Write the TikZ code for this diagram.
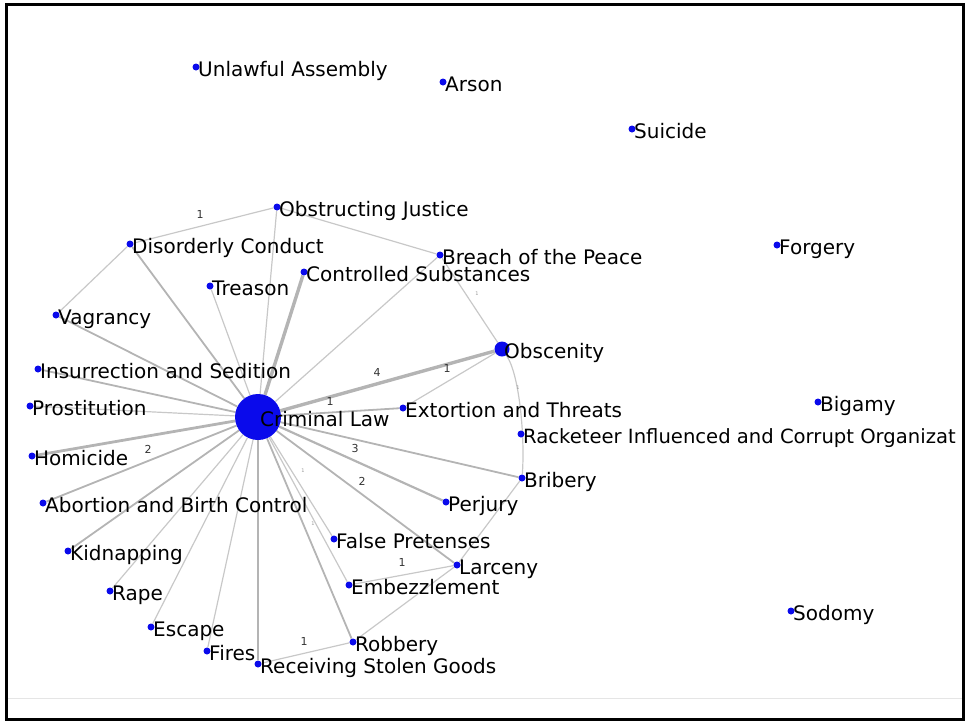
\documentclass[tikz,border=0pt]{standalone}
\usepackage{fontspec}
\setmainfont{DejaVu Sans}
\usetikzlibrary{backgrounds}
\definecolor{dotblue}{RGB}{10,10,235}
\definecolor{edgegray}{RGB}{200,200,200}
\definecolor{edgedark}{RGB}{180,180,180}
\newcommand\crime[5][dot]{%
  \node[#1] (#2) at (#3,#4) {};
  \node[lbl] (#2-t) at (#3+2,#4+9) {#5};}
\begin{document}
\begin{tikzpicture}[x=1pt,y=-1pt,
  dot/.style={circle,fill=dotblue,inner sep=0pt,minimum size=7pt},
  bigdot/.style={dot,minimum size=15pt},
  hubdot/.style={dot,minimum size=46pt},
  lbl/.style={anchor=base west,inner sep=0pt,font=\fontsize{20}{24}\selectfont,text=black},
  edge/.style={draw=edgegray,line width=1.2pt},
  med/.style={draw=edgedark,line width=1.8pt},
  heavy/.style={draw=edgedark,line width=3.4pt},
  elbl/.style={inner sep=0pt,font=\fontsize{11}{13}\selectfont,text=black!80},
  tiny/.style={inner sep=0pt,font=\fontsize{5}{6}\selectfont,text=black!40},
]
\useasboundingbox (0,0) rectangle (966,721);
\draw[draw=black!10,line width=1pt] (7,698) -- (962,698);
% nodes
\crime{ua}{196}{67}{Unlawful Assembly}
\crime{ars}{443}{82}{Arson}
\crime{sui}{632}{129}{Suicide}
\crime{forg}{777}{245}{Forgery}
\crime{bigm}{818}{402}{Bigamy}
\crime{sod}{791}{611}{Sodomy}
\crime{obj}{277}{207}{Obstructing Justice}
\crime{dis}{130}{244}{Disorderly Conduct}
\crime{bre}{440}{255}{Breach of the Peace}
\crime{con}{304}{272}{Controlled Substances}
\crime{tre}{210}{286}{Treason}
\crime{vag}{56}{315}{Vagrancy}
\crime[bigdot]{obs}{502}{349}{Obscenity}
\crime{ins}{38}{369}{Insurrection and Sedition}
\crime{pro}{30}{406}{Prostitution}
\crime[hubdot]{cl}{258}{417}{Criminal Law}
\crime{ext}{403}{408}{Extortion and Threats}
\node[dot] (rac) at (521,434) {};
\node[lbl,font=\fontsize{19.6}{24}\selectfont] (rac-t) at (523,443) {Racketeer Influenced and Corrupt Organizat};
\crime{hom}{32}{456}{Homicide}
\crime{bri}{522}{478}{Bribery}
\crime{abo}{43}{503}{Abortion and Birth Control}
\crime{per}{446}{502}{Perjury}
\crime{fal}{334}{539}{False Pretenses}
\crime{kid}{68}{551}{Kidnapping}
\crime{lar}{457}{565}{Larceny}
\crime{emb}{349}{585}{Embezzlement}
\crime{rap}{110}{591}{Rape}
\crime{esc}{151}{627}{Escape}
\crime{rob}{353}{642}{Robbery}
\crime{fir}{207}{651}{Fires}
\crime{rec}{258}{664}{Receiving Stolen Goods}
% edges
\begin{scope}[on background layer]
\draw[heavy] (cl) -- (obs);
\draw[heavy] (cl) -- (con);
\draw[heavy,line width=2.8pt] (cl) -- (hom);
\draw[heavy,line width=2.4pt] (cl) -- (rec);
\draw[med,line width=2.2pt] (cl) -- (per);
\draw[med] (cl) -- (dis);
\draw[med] (cl) -- (vag);
\draw[med] (cl) -- (ins);
\draw[med] (cl) -- (abo);
\draw[med] (cl) -- (kid);
\draw[med] (cl) -- (rob);
\draw[med] (cl) -- (lar);
\draw[med] (cl) -- (bri);
\draw[med] (cl) -- (ext);
\draw[edge] (cl) -- (obj);
\draw[edge] (cl) -- (tre);
\draw[edge] (cl) -- (bre);
\draw[edge] (cl) -- (pro);
\draw[edge] (cl) -- (rap);
\draw[edge] (cl) -- (esc);
\draw[edge] (cl) -- (fir);
\draw[edge] (cl) -- (emb);
\draw[edge] (cl) -- (fal);
\draw[edge] (dis) -- (obj);
\draw[edge] (dis) -- (vag);
\draw[edge] (obj) -- (bre);
\draw[edge] (bre) -- (obs);
\draw[edge] (obs) -- (ext);
\draw[edge] (obs) .. controls (520,375) and (525,440) .. (bri);
\draw[edge] (bri) -- (lar);
\draw[edge] (lar) -- (emb);
\draw[edge] (lar) -- (rob);
\draw[edge] (rob) -- (rec);
\end{scope}
% edge labels
\node[elbl] (w1) at (200,214) {1};
\node[elbl] (w2) at (377,372) {4};
\node[elbl] (w3) at (330,401) {1};
\node[elbl] (w4) at (447,368) {1};
\node[elbl] (w5) at (355,448) {3};
\node[elbl] (w6) at (362,481) {2};
\node[elbl] (w7) at (148,449) {2};
\node[elbl] (w8) at (402,562) {1};
\node[elbl] (w9) at (304,641) {1};
\node[tiny] (t1) at (477,294) {1};
\node[tiny] (t2) at (303,471) {1};
\node[tiny] (t3) at (313,524) {1};
\node[tiny] (t4) at (518,388) {1};
\draw[line width=3pt] (6,4) rectangle (963,719);
\end{tikzpicture}
\end{document}
